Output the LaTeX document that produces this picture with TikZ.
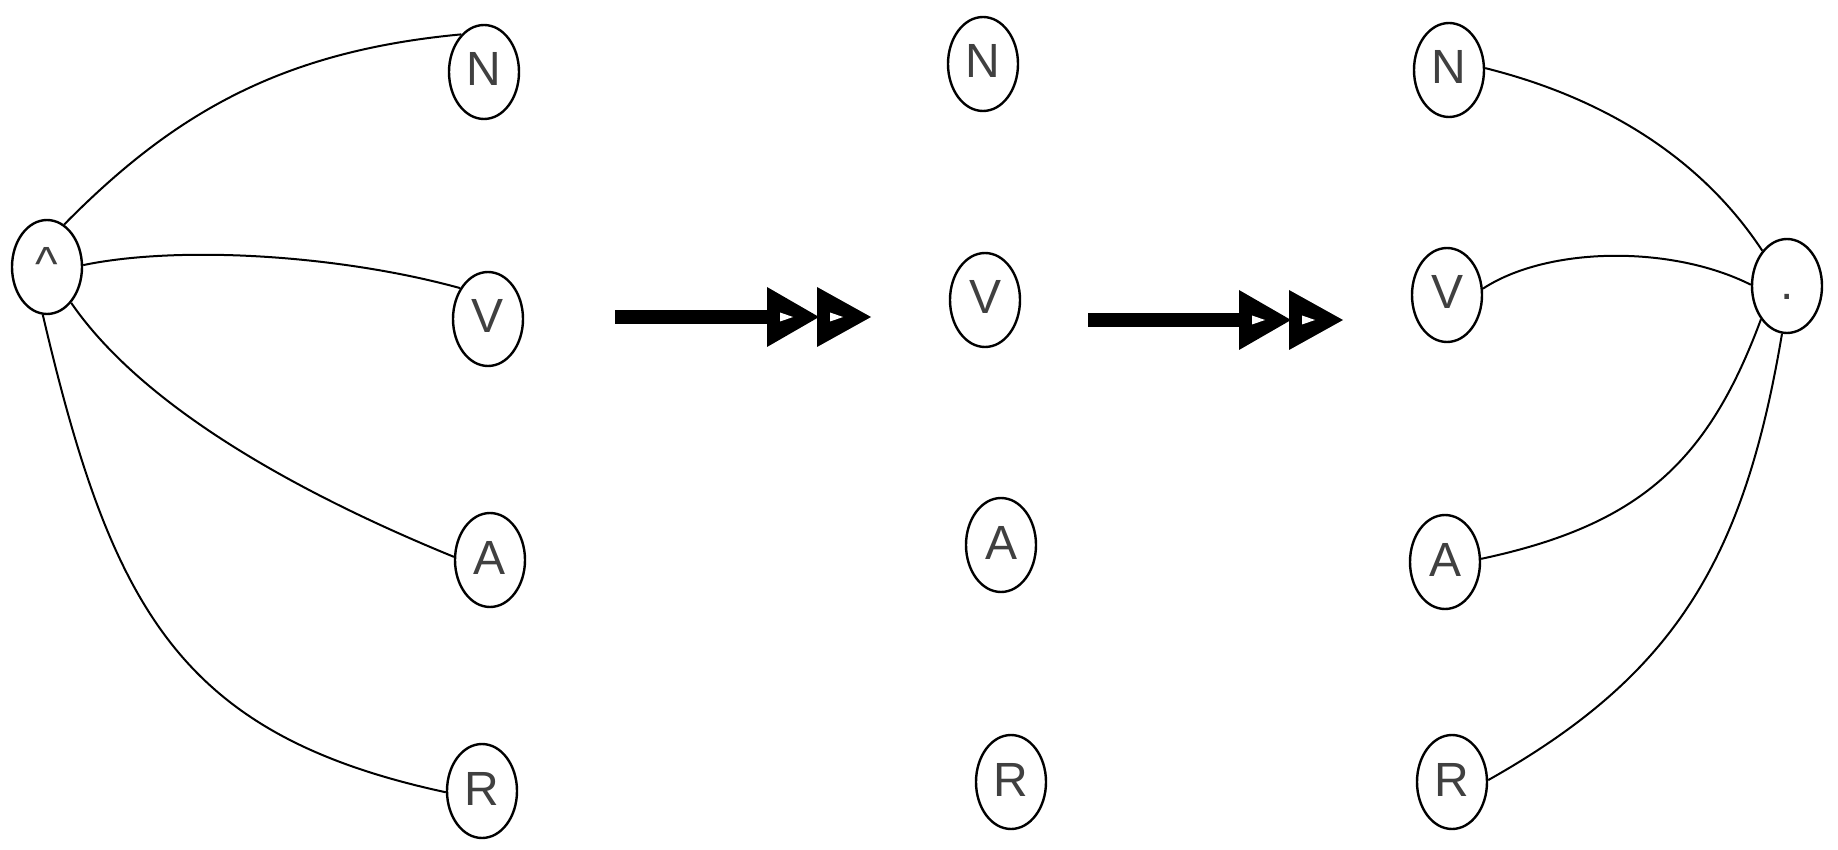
\documentclass[tikz,border=0pt]{standalone}
\usepackage{fontspec}
\setmainfont{Liberation Sans}
\usetikzlibrary{shapes.geometric}
\begin{document}
\begin{tikzpicture}[x=0.5pt,y=-0.5pt,
  letter/.style={draw, ellipse, line width=1.2pt, minimum width=35pt,
    minimum height=47pt, inner sep=0pt, text=black!75,
    font=\fontsize{24}{28}\selectfont, text height=17pt, text depth=3pt},
  link/.style={line width=1pt},
  shaft/.style={line width=6.8pt},
  dblhead/.pic={
    \fill (0,-30) -- (52,0) -- (0,30) -- cycle;
    \fill[white] (13,-4.5) -- (26,0) -- (13,4.5) -- cycle;
    \fill (50,-30) -- (104,0) -- (50,30) -- cycle;
    \fill[white] (63,-4.5) -- (76,0) -- (63,4.5) -- cycle;
  }]
\useasboundingbox (0,0) rectangle (1838,850);

% left group: hub joined to the four letters
\node[letter] (lhub) at (47,267) {\textasciicircum};
\node[letter] (lN) at (484,72) {N};
\node[letter] (lV) at (488,319) {V};
\node[letter] (lA) at (490,560) {A};
\node[letter] (lR) at (482,791) {R};

\draw[link] (lhub.68) .. controls (175,112) and (283,51) .. (lN.121);
\draw[link] (lhub.3) .. controls (180,245) and (340,255) .. (lV.132);
\draw[link] (lhub.-56) .. controls (145,410) and (305,496) .. (lA.175);
\draw[link] (lhub.-95) .. controls (112,610) and (180,735) .. (lR.182);

% middle group: letters alone
\node[letter] (mN) at (983,64) {N};
\node[letter] (mV) at (985,300) {V};
\node[letter] (mA) at (1001,545) {A};
\node[letter] (mR) at (1011,782) {R};

% right group: letters joined to the dot hub
\node[letter] (rhub) at (1787,286) {.};
\node[letter] (rN) at (1449,70) {N};
\node[letter] (rV) at (1447,295) {V};
\node[letter] (rA) at (1445,562) {A};
\node[letter] (rR) at (1452,782) {R};

\draw[link] (rN.3) .. controls (1601,97) and (1700,156) .. (rhub.125);
\draw[link] (rV.10) .. controls (1548,246) and (1672,245) .. (rhub.178);
\draw[link] (rA.5) .. controls (1640,525) and (1708,462) .. (rhub.-128);
\draw[link] (rR.3) .. controls (1675,675) and (1744,560) .. (rhub.-96);

% transition arrows
\coordinate (a1s) at (615,317);
\coordinate (a1e) at (767,317);
\draw[shaft] (a1s) -- (a1e);
\pic at (a1e) {dblhead};

\coordinate (a2s) at (1088,320);
\coordinate (a2e) at (1239,320);
\draw[shaft] (a2s) -- (a2e);
\pic at (a2e) {dblhead};
\end{tikzpicture}
\end{document}
